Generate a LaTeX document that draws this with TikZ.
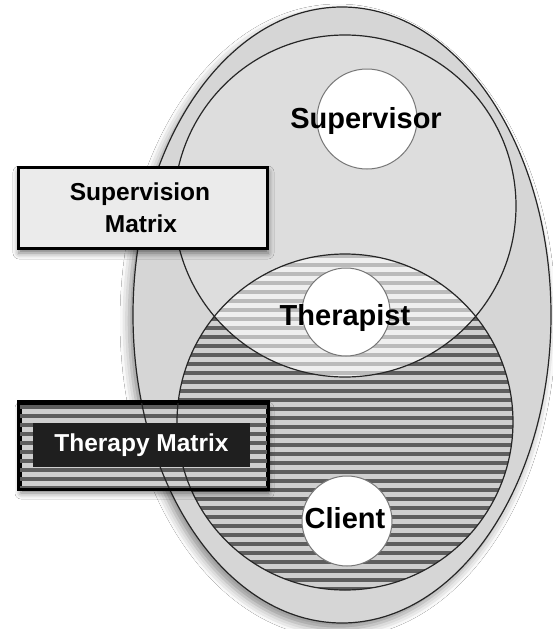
\documentclass[tikz,border=0pt]{standalone}
\usepackage{fontspec}
\setmainfont{Liberation Sans}
\usetikzlibrary{shadows.blur}

\definecolor{outerfill}{HTML}{D6D6D6}
\definecolor{upperfill}{HTML}{DDDDDD}
\definecolor{lensbg}{HTML}{EFEFEF}
\definecolor{lensstripe}{HTML}{BBBBBB}
\definecolor{darkstripe}{HTML}{5E5E5E}
\definecolor{lightstripe}{HTML}{CFCFCF}
\definecolor{boxfill}{HTML}{EBEBEB}
\definecolor{inkdark}{HTML}{1F1F1F}
\definecolor{rimgray}{HTML}{777777}

\tikzset{
  outline/.style={draw=black!85, line width=1.2pt},
  rolecircle/.style={circle, draw=rimgray, line width=1pt, fill=white, inner sep=0pt},
  rolelabel/.style={font=\bfseries\fontsize{29}{34}\selectfont, anchor=base, inner sep=0pt},
  matrixlabel/.style={font=\bfseries\fontsize{24.5}{32}\selectfont, inner sep=0pt},
  framebox/.style={draw=black, line width=3pt, inner sep=0pt,
    blur shadow={shadow xshift=1pt, shadow yshift=-5pt, shadow blur radius=6pt, shadow opacity=55}},
}

\begin{document}
\begin{tikzpicture}[x=1pt, y=-1pt]
\useasboundingbox (0,0) rectangle (553,629);
\fill[white] (0,0) rectangle (553,629);

% outer field with its soft shadow
\path[fill=outerfill, blur shadow={shadow xshift=-4pt, shadow yshift=-6pt, shadow blur radius=9pt, shadow opacity=45}]
  (342,315) ellipse [x radius=209, y radius=308];

% supervision circle
\fill[upperfill] (345,206) circle [radius=171];

% therapy circle: dark horizontal stripes
\begin{scope}
  \clip (345,422) circle [radius=168];
  \fill[lightstripe] (170,250) rectangle (520,595);
  \foreach \k in {0,...,38}
    \fill[darkstripe] (170,254+9*\k) rectangle (520,258+9*\k);
\end{scope}

% overlap of the two circles: light stripes
\begin{scope}
  \clip (345,206) circle [radius=171];
  \clip (345,422) circle [radius=168];
  \fill[lensbg] (170,250) rectangle (520,380);
  \foreach \k in {0,...,14}
    \fill[lensstripe] (170,254+9*\k) rectangle (520,258+9*\k);
\end{scope}

% outlines
\draw[outline] (342,315) ellipse [x radius=209, y radius=308];
\draw[outline] (345,206) circle [radius=171];
\draw[outline] (345,422) circle [radius=168];

% the three roles
\node[rolecircle, minimum size=100pt] (supc) at (367,119) {};
\node[rolecircle, minimum size=88pt] (thc) at (346,312) {};
\node[rolecircle, minimum size=90pt] (clc) at (347,521) {};

\node[rolelabel] (supt) at (366,128) {Supervisor};
\node[rolelabel] (tht) at (345,325) {Therapist};
\node[rolelabel] (clt) at (345,528) {Client};

% supervision matrix box
\node[framebox, fill=boxfill, minimum width=249pt, minimum height=81pt] (svbox) at (142.5,207.5) {};
\node[matrixlabel, anchor=base] (svt1) at (140,200) {Supervision};
\node[matrixlabel, anchor=base] (svt2) at (141,232) {Matrix};

% therapy matrix box: striped frame, outlines show through
\node[framebox, fill=lightstripe, minimum width=247pt, minimum height=85pt] (tmbox) at (143.5,445.5) {};
\begin{scope}
  \clip (tmbox.south west) rectangle (tmbox.north east);
  \foreach \k in {0,...,9}
    \fill[darkstripe] (15,405+9*\k) rectangle (275,409+9*\k);
  \draw[outline] (342,315) ellipse [x radius=209, y radius=308];
  \draw[outline] (345,422) circle [radius=168];
\end{scope}
\draw[draw=black, line width=3pt] (tmbox.south west) rectangle (tmbox.north east);
\node[matrixlabel, fill=inkdark, text=white, minimum width=217pt, minimum height=44pt] (tmt) at (141.5,445) {Therapy Matrix};

\end{tikzpicture}
\end{document}
